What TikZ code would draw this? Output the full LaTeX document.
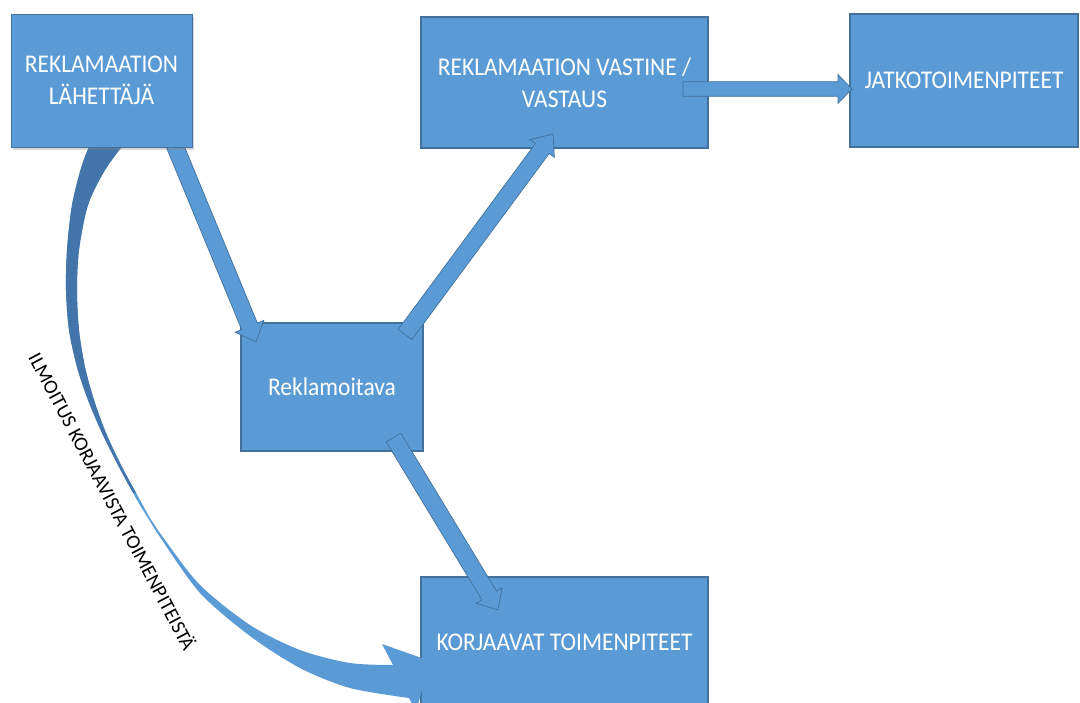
\documentclass[tikz,border=0pt]{standalone}
\usepackage{fontspec}
\setmainfont{Carlito}
\newfontfamily\boxfont[FakeStretch=0.92]{Carlito}
\usetikzlibrary{calc,shadows}
\definecolor{boxblue}{RGB}{91,155,213}
\definecolor{boxedge}{RGB}{65,113,156}
\definecolor{bandback}{RGB}{68,117,170}
\tikzset{
  box/.style={draw=boxedge, line width=1.6pt, fill=boxblue, text=white,
    font=\boxfont\fontsize{25.5}{32}\selectfont, align=center, inner sep=0pt},
  blockarrow/.style={fill=boxblue, draw=boxedge, line width=0.7pt, line join=miter},
  bandfront/.style={fill=boxblue},
  bandrear/.style={fill=bandback},
  curvelabel/.style={font=\fontsize{20}{24}\selectfont, text=black, inner sep=0pt},
}
% #1 tail, #2 tip, #3 half shaft width, #4 half head width, #5 head length
\newcommand\blkarrow[5]{%
  \coordinate (bah) at ($(#2)!#5!(#1)$);
  \filldraw[blockarrow] ($(#1)!#3!90:(#2)$) -- ($(bah)!#3!90:(#2)$)
    -- ($(bah)!#4!90:(#2)$) -- (#2) -- ($(bah)!#4!-90:(#2)$)
    -- ($(bah)!#3!-90:(#2)$) -- ($(#1)!#3!-90:(#2)$) -- cycle;
}
\begin{document}
\begin{tikzpicture}[x=1pt, y=-1pt]
\useasboundingbox (0,0) rectangle (1080,703);
\clip (0,0) rectangle (1080,703);
\fill[white] (0,0) rectangle (1080,703);

% boxes (except the sender, drawn last)
\node[box, minimum width=287pt, minimum height=131pt] (resp) at (564.5,82.5)
  {REKLAMAATION VASTINE /\\VASTAUS};
\node[box, minimum width=228pt, minimum height=133pt] (further) at (964,80.5)
  {JATKOTOIMENPITEET};
\node[box, minimum width=182pt, minimum height=128pt] (target) at (332,387)
  {Reklamoitava};
\node[box, minimum width=287pt, minimum height=130pt] (fix) at (564.5,642)
  {KORJAAVAT TOIMENPITEET};

% straight block arrows
\coordinate (aTail) at (172.5,140);
\coordinate (aTip) at (256,342);
\coordinate (bTail) at (405,334.5);
\coordinate (bTip) at (553,134);
\coordinate (cTail) at (683,89);
\coordinate (cTip) at (852,89);
\coordinate (dTail) at (393.5,437.5);
\coordinate (dTip) at (498,610);
\blkarrow{aTail}{aTip}{8.5pt}{15.5pt}{17pt}
\blkarrow{bTail}{bTip}{8.5pt}{15pt}{18pt}
\blkarrow{cTail}{cTip}{7.3pt}{14.5pt}{14pt}
\blkarrow{dTail}{dTip}{8.5pt}{15pt}{17pt}

% curved ribbon arrow
\fill[bandfront] plot[smooth] coordinates {(92,140) (82,165) (72,205) (67,250) (66,290) (69,330) (77,367) (88,400) (102,433) (119,467) (137,500) (148,518) (162,540) (200,593) (250,636) (300,668) (350,688) (409,698)}
  -- (416,712) -- (430,661) -- (382,644)
  -- plot[smooth] coordinates {(393,665) (350,663) (300,650) (250,625) (200,585) (165,540) (150,518) (140,500) (122,467) (106,433) (94,400) (85,367) (79,330) (77,290) (79,250) (88,205) (105,170) (127,140)}
  -- cycle;
\begin{scope}
\clip (0,0) rectangle (1080,492);
\fill[bandrear] plot[smooth] coordinates {(92,140) (82,165) (72,205) (67,250) (66,290) (69,330) (77,367) (88,400) (102,433) (119,467) (137,500) (148,518) (162,540) (200,593) (250,636) (300,668) (350,688) (409,698)}
  -- (416,712) -- (430,661) -- (382,644)
  -- plot[smooth] coordinates {(393,665) (350,663) (300,650) (250,625) (200,585) (165,540) (150,518) (140,500) (122,467) (106,433) (94,400) (85,367) (79,330) (77,290) (79,250) (88,205) (105,170) (127,140)}
  -- cycle;
\end{scope}

% sender box on top
\node[box, line width=0.8pt, minimum width=181pt, minimum height=133pt,
  drop shadow={opacity=0.3, shadow xshift=2pt, shadow yshift=-3pt}] (send) at (101.5,80.5)
  {REKLAMAATION\\LÄHETTÄJÄ};

% label along the curve
\node[curvelabel, rotate=-62] (notice) at (113,501) {ILMOITUS KORJAAVISTA TOIMENPITEISTÄ};
\end{tikzpicture}
\end{document}
